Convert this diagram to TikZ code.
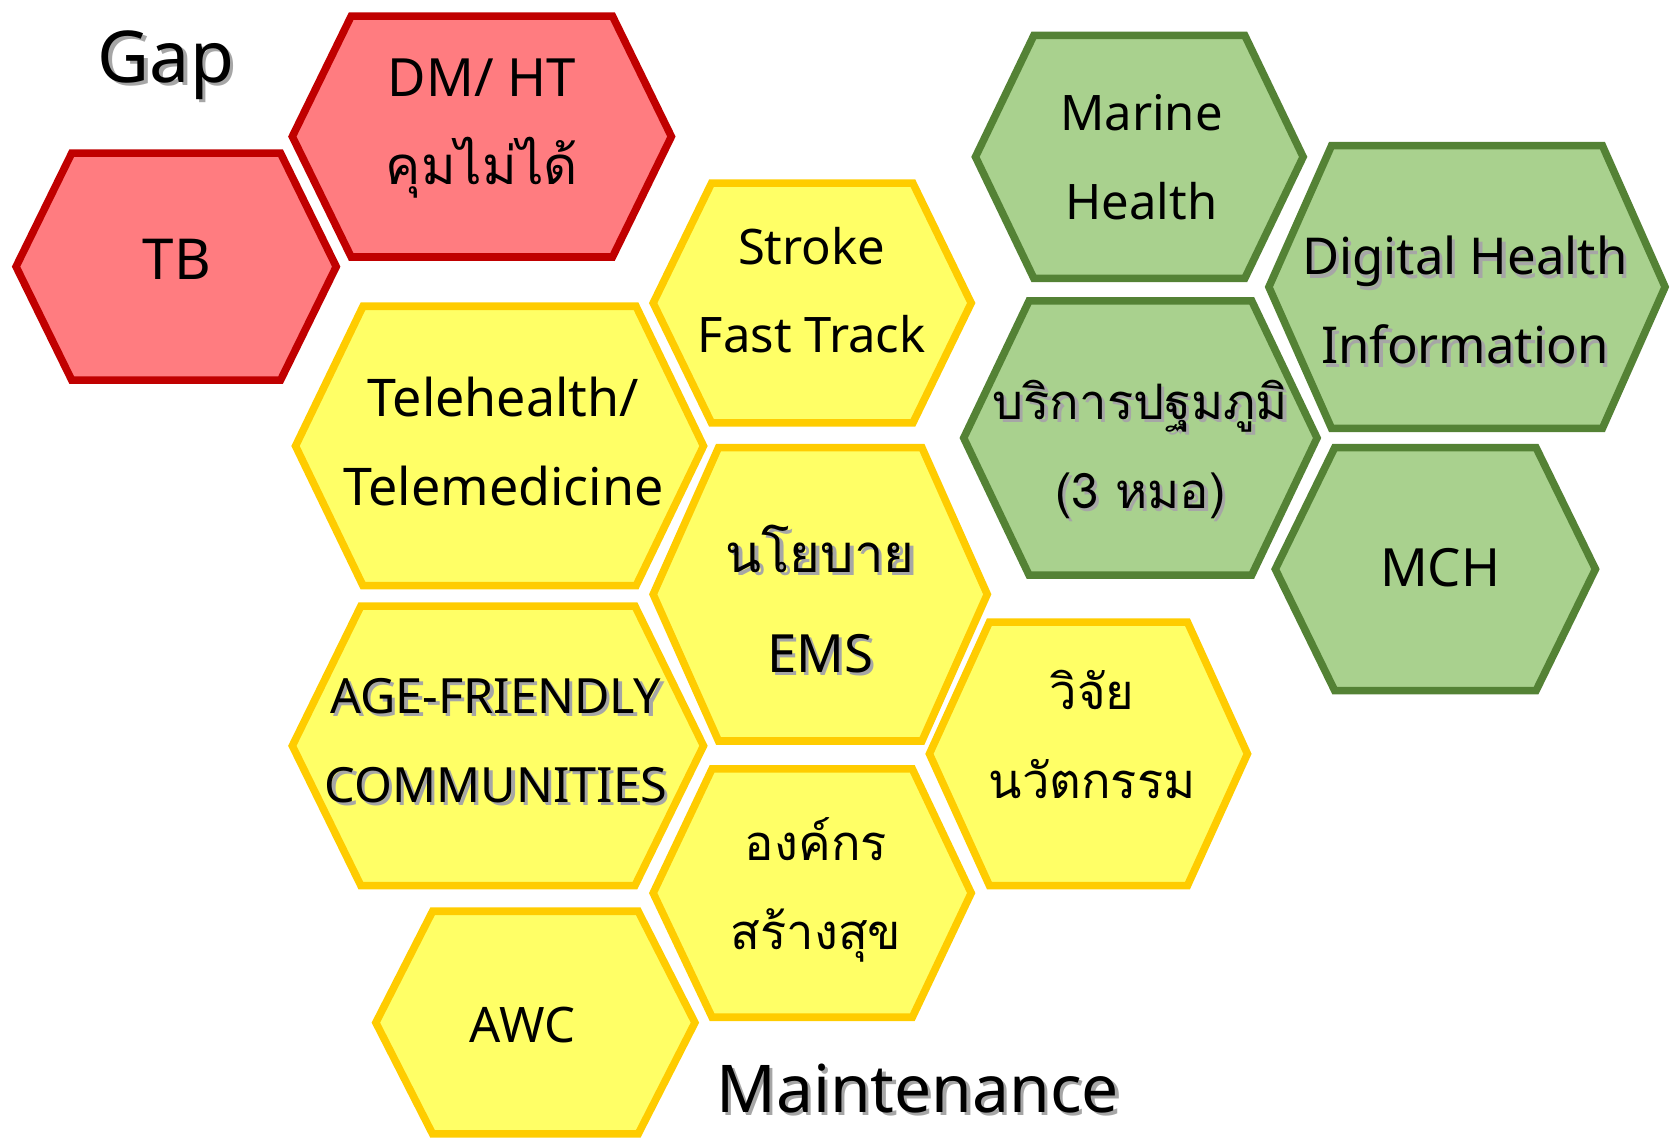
\documentclass[tikz,border=0pt]{standalone}
\usepackage{fontspec}
\setmainfont{Noto Sans}
\newfontfamily\thaifont[Script=Thai]{Loma}

\definecolor{gapline}{HTML}{C00000}
\definecolor{gapfill}{HTML}{FF7C80}
\definecolor{keepline}{HTML}{FFCC00}
\definecolor{keepfill}{HTML}{FFFF66}
\definecolor{goodline}{HTML}{548235}
\definecolor{goodfill}{HTML}{A9D18E}

% style, cx, cy, half width, half top edge, half height
\newcommand{\hexcell}[6]{%
  \draw[#1] ({#2-#4},#3) -- ({#2-#5},{#3-#6}) -- ({#2+#5},{#3-#6})
    -- ({#2+#4},#3) -- ({#2+#5},{#3+#6}) -- ({#2-#5},{#3+#6}) -- cycle;}
\newcommand{\shadowed}[1]{\leavevmode\rlap{\kern0.9pt\raisebox{-0.9pt}{\textcolor{black!35}{#1}}}#1}

\begin{document}
\begin{tikzpicture}[
x=0.01cm, y=-0.01cm,
gap cell/.style={draw=gapline, fill=gapfill, line width=2pt},
keep cell/.style={draw=keepline, fill=keepfill, line width=2pt},
good cell/.style={draw=goodline, fill=goodfill, line width=2pt},
label/.style={align=center, inner sep=0pt, font=\fontsize{13}{23.6}\selectfont},
title/.style={inner sep=0pt, font=\fontsize{19}{22}\selectfont}
]
\useasboundingbox (0,0) rectangle (1568,1066);

\hexcell{gap cell}{164.5}{249}{149.5}{97.5}{106}
\hexcell{gap cell}{450}{127.5}{177}{122}{112.5}
\hexcell{keep cell}{758.5}{283}{148.5}{94}{112}
\hexcell{keep cell}{466.5}{416.5}{190.5}{127.5}{130.5}
\hexcell{keep cell}{766}{555}{156}{95}{137}
\hexcell{keep cell}{465}{696.5}{192}{128}{130.5}
\hexcell{keep cell}{1016.5}{704}{148.5}{92.5}{123}
\hexcell{keep cell}{758.5}{834}{148.5}{93.5}{116}
\hexcell{keep cell}{500}{955}{149}{96}{104}
\hexcell{good cell}{1064}{146.5}{153}{98.5}{113.5}
\hexcell{good cell}{1370}{268}{185}{126.5}{132}
\hexcell{good cell}{1065}{409}{165}{104}{128}
\hexcell{good cell}{1340.5}{531.5}{149.5}{94}{113.5}

\node[title] (gap) at (155,62) {\shadowed{Gap}};
\node[title, font=\fontsize{17.5}{22}\selectfont] (maintenance) at (857,1018) {\shadowed{Maintenance}};

\node[label, font=\fontsize{15}{23.6}\selectfont] (tb) at (165,242) {TB};
\node[label, font=\fontsize{14}{23.6}\selectfont] (dmht) at (450,120) {DM/ HT\\{\thaifont คุมไม่ได้}};
\node[label] (stroke) at (758,271) {Stroke\\Fast Track};
\node[label, font=\fontsize{13.8}{23.6}\selectfont] (tele) at (470,412) {Telehealth/\\Telemedicine};
\node[label, font=\fontsize{14}{26.5}\selectfont] (ems) at (766,561) {\shadowed{\thaifont นโยบาย}\\\shadowed{EMS}};
\node[label, font=\fontsize{12.9}{23.6}\selectfont] (age) at (463,693) {\shadowed{AGE-FRIENDLY}\\\shadowed{COMMUNITIES}};
\node[label] (research) at (1020,686) {\thaifont วิจัย\\\thaifont นวัตกรรม};
\node[label] (org) at (762,831) {\thaifont องค์กร\\\thaifont สร้างสุข};
\node[label] (awc) at (488,957) {AWC};
\node[label] (marine) at (1066,147) {Marine\\Health};
\node[label, font=\fontsize{13.5}{23.6}\selectfont] (digital) at (1368,282) {\shadowed{Digital Health}\\\shadowed{Information}};
\node[label] (primary) at (1065,421) {\shadowed{\thaifont บริการปฐมภูมิ}\\\shadowed{\thaifont (3 หมอ)}};
\node[label, font=\fontsize{14}{23.6}\selectfont] (mch) at (1345,530) {MCH};

\end{tikzpicture}
\end{document}
